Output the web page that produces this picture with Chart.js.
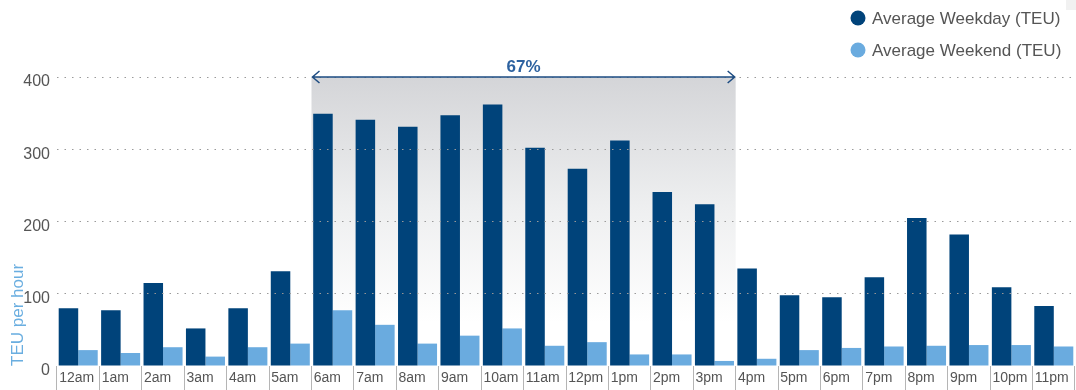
<!DOCTYPE html>
<html>
<head>
<meta charset="utf-8">
<title>TEU per hour</title>
<script src="https://cdn.jsdelivr.net/npm/chart.js@4.4.1/dist/chart.umd.min.js"></script>
<style>
  html, body { margin: 0; padding: 0; background: #fff; }
  #wrap { width: 1076px; height: 390px; position: relative; }
</style>
</head>
<body>
<div id="wrap"><canvas id="teu"></canvas></div>
<script>
const hours = ['12am', '1am', '2am', '3am', '4am', '5am', '6am', '7am', '8am', '9am', '10am', '11am',
               '12pm', '1pm', '2pm', '3pm', '4pm', '5pm', '6pm', '7pm', '8pm', '9pm', '10pm', '11pm'];
const weekday = [80, 77, 115, 52, 80, 131, 349, 341, 331, 347, 362, 302,
                 273, 312, 241, 224, 135, 98, 95, 123, 205, 182, 109, 83];
const weekend = [22, 18, 26, 13, 26, 31, 77, 57, 31, 42, 52, 28,
                 33, 16, 16, 7, 10, 22, 25, 27, 28, 29, 29, 27];
const yTicks = [0, 100, 200, 300, 400];
const peakFrom = '6am';
const peakTo = '3pm';
const peakShare = '67%';

const NAVY = '#00437a';
const SKY = '#6aabdf';
const TEXT = '#555';
const FONT = '"Liberation Sans", Arial, sans-serif';

// gray band behind the peak hours, fading out toward the baseline
const peakBand = {
  id: 'peakBand',
  beforeDatasetsDraw(chart) {
    const { ctx, chartArea, scales: { x, y } } = chart;
    const half = (x.getPixelForValue(1) - x.getPixelForValue(0)) / 2;
    const x0 = x.getPixelForValue(hours.indexOf(peakFrom)) - half;
    const x1 = x.getPixelForValue(hours.indexOf(peakTo)) + half;
    const top = y.getPixelForValue(yTicks[yTicks.length - 1]);
    const g = ctx.createLinearGradient(0, top, 0, chartArea.bottom);
    g.addColorStop(0, '#d4d5d8');
    g.addColorStop(0.45, '#eeeff0');
    g.addColorStop(0.85, '#ffffff');
    ctx.save();
    ctx.fillStyle = g;
    ctx.fillRect(x0, top, x1 - x0, chartArea.bottom - top);
    ctx.restore();
  }
};

// arrow + share label, legend, rotated axis title
const extras = {
  id: 'extras',
  afterDraw(chart) {
    const { ctx, chartArea, scales: { x, y } } = chart;
    const half = (x.getPixelForValue(1) - x.getPixelForValue(0)) / 2;
    const x0 = x.getPixelForValue(hours.indexOf(peakFrom)) - half;
    const x1 = x.getPixelForValue(hours.indexOf(peakTo)) + half;
    const ay = y.getPixelForValue(yTicks[yTicks.length - 1]);
    ctx.save();

    ctx.strokeStyle = '#1d4c82';
    ctx.lineWidth = 1.5;
    ctx.beginPath();
    ctx.moveTo(x0 + 1, ay);
    ctx.lineTo(x1 - 1, ay);
    ctx.moveTo(x0 + 8, ay - 6);
    ctx.lineTo(x0 + 1, ay);
    ctx.lineTo(x0 + 8, ay + 6);
    ctx.moveTo(x1 - 8, ay - 6);
    ctx.lineTo(x1 - 1, ay);
    ctx.lineTo(x1 - 8, ay + 6);
    ctx.stroke();

    ctx.fillStyle = '#2d62a0';
    ctx.font = 'bold 17px ' + FONT;
    ctx.textAlign = 'center';
    ctx.textBaseline = 'alphabetic';
    ctx.fillText(peakShare, (x0 + x1) / 2, ay - 5);

    // legend, stacked in the top right corner
    ctx.font = '17px ' + FONT;
    ctx.textAlign = 'left';
    ctx.textBaseline = 'middle';
    chart.data.datasets.forEach((ds, i) => {
      const cy = 18 + i * 32;
      ctx.fillStyle = ds.backgroundColor;
      ctx.beginPath();
      ctx.arc(858, cy, 7.5, 0, Math.PI * 2);
      ctx.fill();
      ctx.fillStyle = TEXT;
      ctx.fillText(ds.label, 872, cy + 1);
    });

    // y axis title sits low, beside the bottom ticks
    ctx.translate(23, chartArea.bottom);
    ctx.rotate(-Math.PI / 2);
    ctx.fillStyle = '#6aaee0';
    ctx.font = '17px ' + FONT;
    ctx.textBaseline = 'alphabetic';
    ctx.fillText('TEU per hour', 0, 0);
    ctx.restore();

    ctx.save();
    ctx.fillStyle = '#f1f1f1';
    ctx.fillRect(1066, 0, 10, 10);
    ctx.restore();
  }
};

new Chart(document.getElementById('teu'), {
  type: 'bar',
  data: {
    labels: hours,
    datasets: [
      {
        label: 'Average Weekday (TEU)',
        data: weekday,
        backgroundColor: NAVY,
        categoryPercentage: 0.92,
        barPercentage: 1.0,
      },
      {
        label: 'Average Weekend (TEU)',
        data: weekend,
        backgroundColor: SKY,
        categoryPercentage: 0.92,
        barPercentage: 1.0,
      },
    ],
  },
  options: {
    responsive: true,
    maintainAspectRatio: false,
    animation: false,
    layout: { padding: { top: 77, right: 1, left: 0, bottom: 0 } },
    plugins: {
      legend: { display: false },
      tooltip: { enabled: false },
    },
    scales: {
      x: {
        border: { display: false },
        grid: {
          offset: true,
          drawOnChartArea: false,
          drawTicks: true,
          tickLength: 24,
          color: '#b5b5b5',
        },
        ticks: {
          autoSkip: false,
          maxRotation: 0,
          align: 'start',
          labelOffset: -19,
          padding: -20,
          color: TEXT,
          font: { family: FONT, size: 14 },
        },
        afterFit(scale) { scale.height = 24; },
      },
      y: {
        min: 0,
        max: 400,
        border: { display: false, dash: [1.5, 6] },
        afterBuildTicks(scale) { scale.ticks = yTicks.map(v => ({ value: v })); },
        grid: {
          z: 1,
          drawTicks: false,
          color: ctx => (ctx.tick && ctx.tick.value === 0 ? 'rgba(0,0,0,0)' : '#9a9a9a'),
          lineWidth: 1,
        },
        ticks: {
          padding: 7,
          labelOffset: 5,
          color: TEXT,
          font: { family: FONT, size: 16 },
        },
        afterFit(scale) { scale.width = 57; },
      },
    },
  },
  plugins: [peakBand, extras],
});
</script>
</body>
</html>
